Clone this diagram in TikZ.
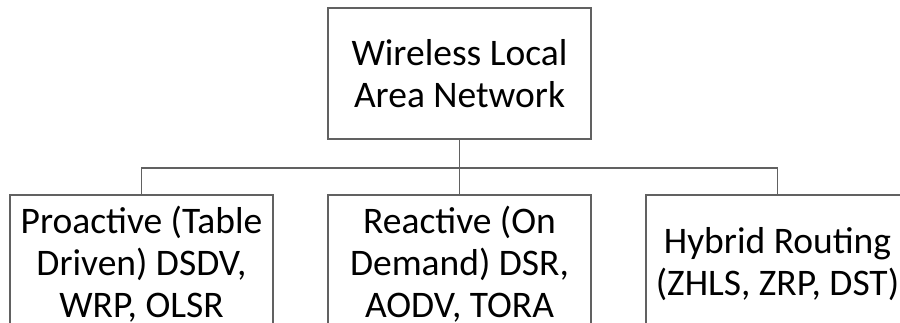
\documentclass[tikz,border=0pt]{standalone}
\usepackage{fontspec}
\setmainfont{Carlito}
\begin{document}
\begin{tikzpicture}[x=1pt,y=1pt,
  box/.style={draw=black!62, line width=1.3pt, minimum width=263pt, align=center,
    font=\fontsize{37.5}{42}\selectfont, inner sep=0pt, text=black},
  conn/.style={draw=black!62, line width=1.3pt}]
\useasboundingbox (0,0) rectangle (900,-323);
\clip (0,0) rectangle (900,-323);
\node[box, minimum height=131pt] (root) at (459.5,-73.5) {Wireless Local\\Area Network};
\node[box, minimum height=138pt] (p) at (141.5,-264) {Proactive (Table\\Driven) DSDV,\\WRP, OLSR};
\node[box, minimum height=138pt] (r) at (459.5,-264) {Reactive (On\\Demand) DSR,\\AODV, TORA};
\node[box, minimum height=138pt] (h) at (777.5,-264) {Hybrid Routing\\(ZHLS, ZRP, DST)};
\coordinate (bar) at (459.5,-168);
\draw[conn] (root.south) -- (r.north);
\draw[conn] (p.north) |- (bar) -| (h.north);
\end{tikzpicture}
\end{document}
